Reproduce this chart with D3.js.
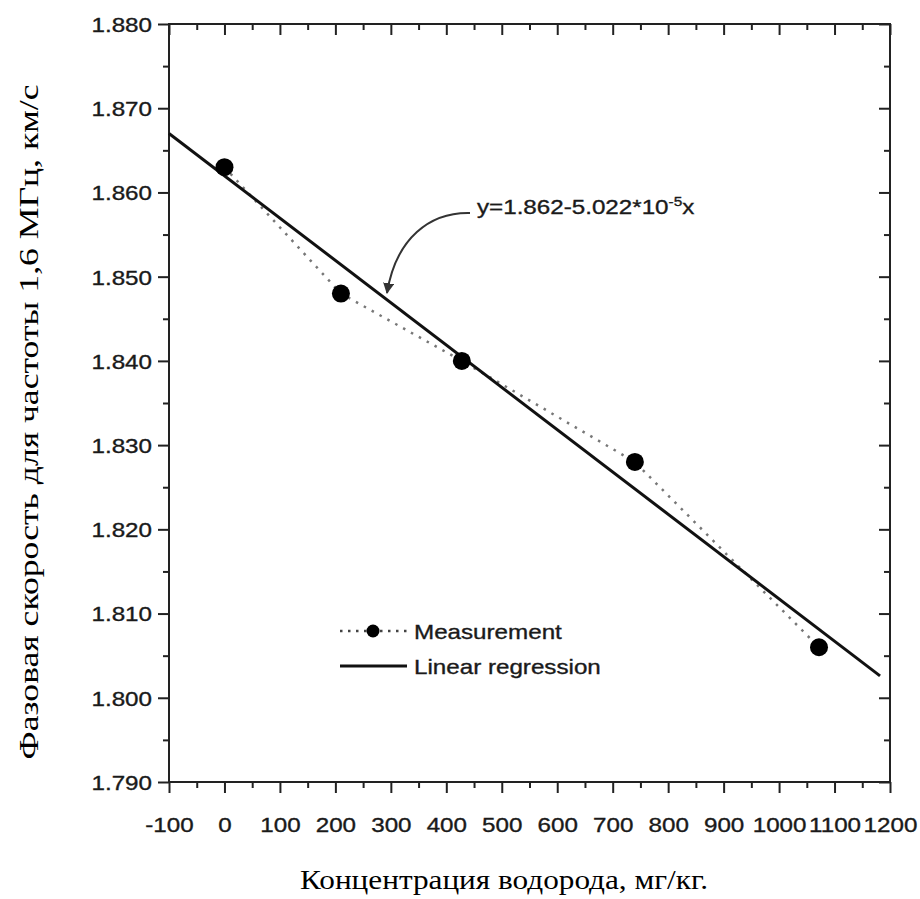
<!DOCTYPE html>
<head>
  <meta charset="utf-8">
  <script src="https://d3js.org/d3.v7.min.js"></script>
  <style>
    body { margin:0; background:#fff; }
    .tick text, .sans { font-family: "Liberation Sans", Arial, sans-serif; font-size: 20.5px; fill: #1a1a1a; stroke: #1a1a1a; stroke-width: 0.35px; }
  </style>
</head>

<body>
  <script>
    var concentration = [0, 210, 428, 740, 1072];
    var velocity = [1.863, 1.848, 1.840, 1.828, 1.806];

    // regression line end points
    var fitX = [-100, 1182];
    var fitY = [1.867, 1.8026];

    var xTicks = [-100, 0, 100, 200, 300, 400, 500, 600, 700, 800, 900, 1000, 1100, 1200];
    var yTicks = [1.790, 1.800, 1.810, 1.820, 1.830, 1.840, 1.850, 1.860, 1.870, 1.880];

    var width = 920, height = 899;
    // plot box (note: "top" is reserved on window, so use other names)
    var boxL = 169, boxR = 890, boxT = 24, boxB = 782;
    var stretch = 1.18;   // the scanned text is wider than normal

    var svg = d3.select('body').append('svg')
      .attr('width', width)
      .attr('height', height);

    var x = d3.scaleLinear().domain([-100, 1200]).range([boxL, boxR]);
    var y = d3.scaleLinear().domain([1.79, 1.88]).range([boxB, boxT]);

    var xMinor = xTicks.slice(0, -1).map(d => d + 50);
    var yMinor = yTicks.slice(0, -1).map(d => d + 0.005);

    function noDomain(g) { g.select('.domain').remove(); }

    // bottom axis
    svg.append('g').attr('transform', 'translate(0,' + boxB + ')')
      .call(d3.axisBottom(x).tickValues(xMinor).tickSize(6).tickFormat(''))
      .call(noDomain);
    var gx = svg.append('g').attr('transform', 'translate(0,' + boxB + ')')
      .call(d3.axisBottom(x).tickValues(xTicks).tickSize(11).tickFormat(d => String(d)))
      .call(noDomain);
    gx.selectAll('text').attr('y', 50).attr('dy', 0).attr('transform', 'scale(' + stretch + ',1)');

    // top axis, ticks inward
    svg.append('g').attr('transform', 'translate(0,' + boxT + ')')
      .call(d3.axisTop(x).tickValues(xMinor).tickSize(-6).tickFormat(''))
      .call(noDomain);
    svg.append('g').attr('transform', 'translate(0,' + boxT + ')')
      .call(d3.axisTop(x).tickValues(xTicks).tickSize(-11).tickFormat(''))
      .call(noDomain);

    // left axis
    svg.append('g').attr('transform', 'translate(' + boxL + ',0)')
      .call(d3.axisLeft(y).tickValues(yMinor).tickSize(6).tickFormat(''))
      .call(noDomain);
    var gy = svg.append('g').attr('transform', 'translate(' + boxL + ',0)')
      .call(d3.axisLeft(y).tickValues(yTicks).tickSize(11).tickFormat(d3.format('.3f')))
      .call(noDomain);
    gy.selectAll('text').attr('x', -17 / stretch).attr('dy', '0.36em').attr('transform', 'scale(' + stretch + ',1)');

    // right axis, ticks inward
    svg.append('g').attr('transform', 'translate(' + boxR + ',0)')
      .call(d3.axisRight(y).tickValues(yMinor).tickSize(-6).tickFormat(''))
      .call(noDomain);
    svg.append('g').attr('transform', 'translate(' + boxR + ',0)')
      .call(d3.axisRight(y).tickValues(yTicks).tickSize(-11).tickFormat(''))
      .call(noDomain);

    svg.selectAll('.tick line').attr('stroke', '#222').attr('stroke-width', 2);

    // frame
    svg.append('rect')
      .attr('x', boxL).attr('y', boxT)
      .attr('width', boxR - boxL).attr('height', boxB - boxT)
      .attr('fill', 'none').attr('stroke', '#222').attr('stroke-width', 2);

    // dotted line through the measurements
    var pts = concentration.map((c, i) => [c, velocity[i]]);
    svg.append('path')
      .datum(pts)
      .attr('d', d3.line().x(d => x(d[0])).y(d => y(d[1])))
      .attr('fill', 'none')
      .attr('stroke', '#777')
      .attr('stroke-width', 2.5)
      .attr('stroke-dasharray', '2.5,6.5');

    // regression line
    svg.append('line')
      .attr('x1', x(fitX[0])).attr('y1', y(fitY[0]))
      .attr('x2', x(fitX[1])).attr('y2', y(fitY[1]))
      .attr('stroke', '#111').attr('stroke-width', 3);

    svg.selectAll('circle.pt')
      .data(pts)
      .enter()
      .append('circle')
      .attr('class', 'pt')
      .attr('cx', d => x(d[0]))
      .attr('cy', d => y(d[1]))
      .attr('r', 9)
      .attr('fill', '#000');

    // annotation
    var note = svg.append('g')
      .attr('transform', 'translate(477,214) scale(' + stretch + ',1)')
      .append('text')
      .attr('class', 'sans');
    note.append('tspan').text('y=1.862-5.022*10');
    note.append('tspan').attr('dy', -8).style('font-size', '13px').text('-5');
    note.append('tspan').attr('dy', 8).text('x');

    svg.append('defs').append('marker')
      .attr('id', 'arrow')
      .attr('viewBox', '0 0 10 10')
      .attr('refX', 9).attr('refY', 5)
      .attr('markerWidth', 5.5).attr('markerHeight', 5.5)
      .attr('orient', 'auto')
      .append('path')
      .attr('d', 'M0,0 L10,5 L0,10 z')
      .attr('fill', '#333');

    svg.append('path')
      .attr('d', 'M470,213 C430,212 396,238 387,293')
      .attr('fill', 'none')
      .attr('stroke', '#333')
      .attr('stroke-width', 2)
      .attr('marker-end', 'url(#arrow)');

    // legend
    var legend = svg.append('g');
    legend.append('line')
      .attr('x1', 340).attr('x2', 407).attr('y1', 631).attr('y2', 631)
      .attr('stroke', '#444').attr('stroke-width', 2.5)
      .attr('stroke-dasharray', '2.5,5.5');
    legend.append('circle').attr('cx', 373).attr('cy', 631).attr('r', 6.5).attr('fill', '#000');
    legend.append('line')
      .attr('x1', 340).attr('x2', 407).attr('y1', 666).attr('y2', 666)
      .attr('stroke', '#111').attr('stroke-width', 3);

    var legendLabels = ['Measurement', 'Linear regression'];
    legend.selectAll('g.lab')
      .data(legendLabels)
      .enter()
      .append('g')
      .attr('class', 'lab')
      .attr('transform', (d, i) => 'translate(414,' + (639 + i * 35) + ') scale(' + stretch + ',1)')
      .append('text')
      .attr('class', 'sans')
      .text(d => d);

    // axis titles
    svg.append('text')
      .attr('x', 504).attr('y', 889)
      .attr('text-anchor', 'middle')
      .attr('textLength', 408)
      .attr('lengthAdjust', 'spacingAndGlyphs')
      .style('font-family', '"Liberation Serif", "Times New Roman", serif')
      .style('font-size', '27px')
      .text('Концентрация водорода, мг/кг.');

    svg.append('text')
      .attr('transform', 'translate(38,422) rotate(-90)')
      .attr('text-anchor', 'middle')
      .attr('textLength', 675)
      .attr('lengthAdjust', 'spacingAndGlyphs')
      .style('font-family', '"Liberation Serif", "Times New Roman", serif')
      .style('font-size', '27px')
      .text('Фазовая скорость для частоты 1,6 МГц, км/с');
  </script>
</body>
